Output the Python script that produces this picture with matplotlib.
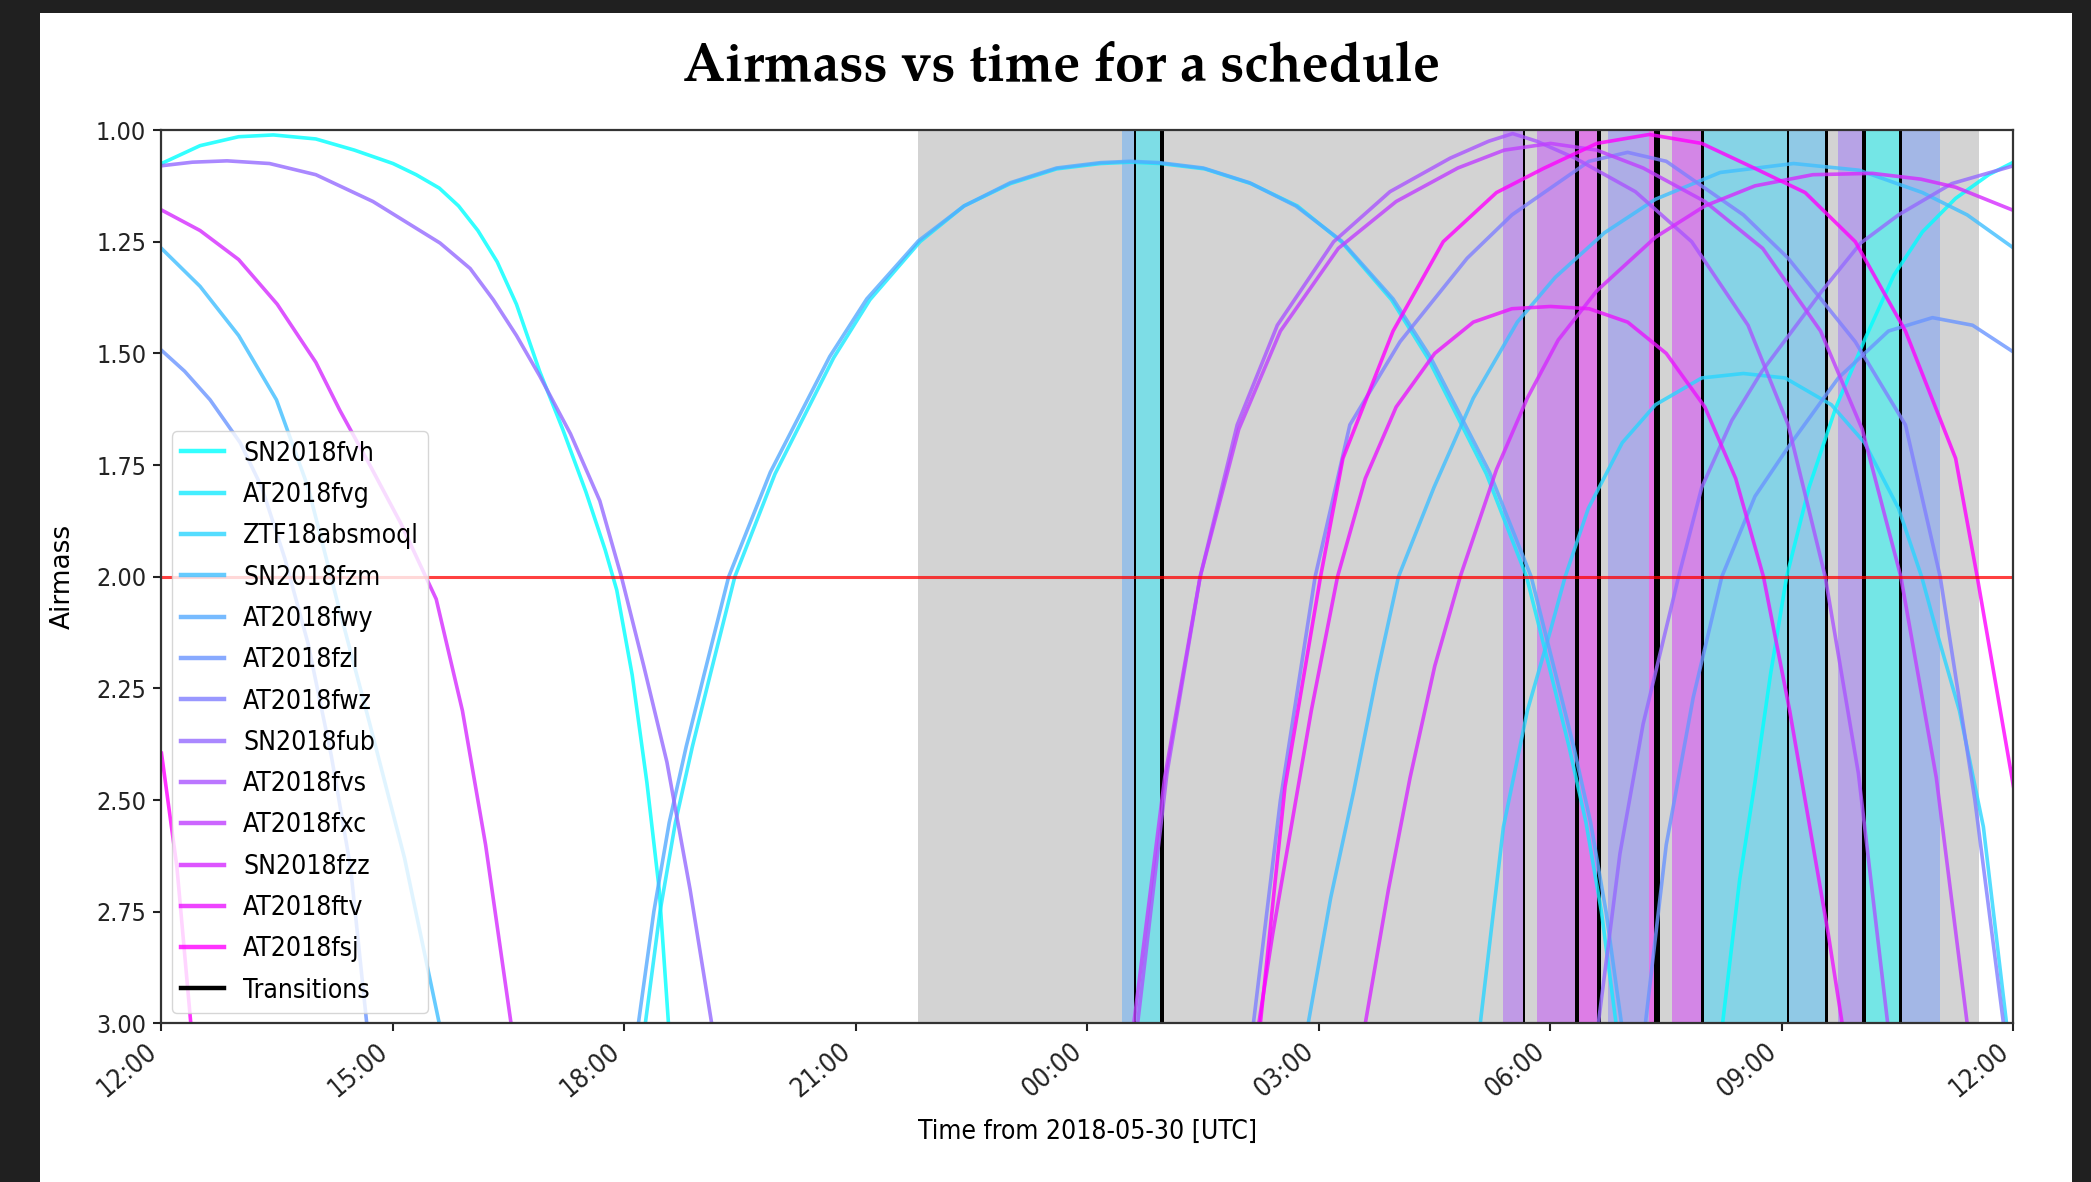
import numpy as np
import matplotlib.pyplot as plt
import matplotlib.dates as mdates
from matplotlib.lines import Line2D
from matplotlib.patches import Rectangle
from matplotlib import font_manager as fm

installed = {f.name for f in fm.fontManager.ttflist}
serif_font = 'TeX Gyre Pagella' if 'TeX Gyre Pagella' in installed else 'Liberation Serif'
plt.rcParams['font.family'] = ['DejaVu Sans']
plt.rcParams['font.stretch'] = 'condensed'

# time axis: hours after 2018-05-29 12:00 UTC
start = np.datetime64('2018-05-29T12:00')

targets = ['SN2018fvh', 'AT2018fvg', 'ZTF18absmoql', 'SN2018fzm', 'AT2018fwy',
           'AT2018fzl', 'AT2018fwz', 'SN2018fub', 'AT2018fvs', 'AT2018fxc',
           'SN2018fzz', 'AT2018ftv', 'AT2018fsj']

# airmass curves, (hour, airmass)
fvh_eve = [(0.0, 1.075), (0.5, 1.035), (1.0, 1.015), (1.45, 1.011), (2.0, 1.02), (2.5, 1.045),
           (3.0, 1.075), (3.3, 1.1), (3.6, 1.13), (3.85, 1.17), (4.1, 1.225), (4.35, 1.295),
           (4.6, 1.39), (4.9, 1.54), (5.2, 1.67), (5.5, 1.81), (5.75, 1.94), (5.9, 2.03),
           (6.1, 2.22), (6.29, 2.46), (6.45, 2.7), (6.57, 3.0)]
fvh_morn = [(20.23, 3.0), (20.45, 2.68), (20.65, 2.46), (20.85, 2.22), (21.06, 2.0), (21.35, 1.8),
            (21.7, 1.62), (22.08, 1.466), (22.45, 1.325), (22.82, 1.228), (23.25, 1.153),
            (23.68, 1.1), (24.0, 1.072)]
fvg_night = [(6.27, 3.0), (6.46, 2.75), (6.66, 2.55), (6.88, 2.38), (7.11, 2.22), (7.43, 2.0),
             (7.95, 1.77), (8.71, 1.51), (9.18, 1.38), (9.83, 1.25), (10.4, 1.17), (11.0, 1.12),
             (11.6, 1.087), (12.17, 1.075), (12.56, 1.072), (12.95, 1.075), (13.52, 1.087),
             (14.12, 1.12), (14.72, 1.17), (15.29, 1.25), (15.94, 1.38), (16.41, 1.51),
             (17.17, 1.77), (17.69, 2.0), (18.01, 2.22), (18.24, 2.38), (18.46, 2.55),
             (18.66, 2.75), (18.85, 3.0)]
zsm_night = [(17.09, 3.0), (17.39, 2.56), (17.7, 2.3), (18.0, 2.12), (18.19, 2.0), (18.49, 1.847),
             (18.93, 1.7), (19.36, 1.615), (19.96, 1.555), (20.5, 1.545), (21.04, 1.555),
             (21.64, 1.615), (22.07, 1.7), (22.51, 1.847), (22.81, 2.0), (23.0, 2.12),
             (23.3, 2.3), (23.61, 2.56), (23.91, 3.0)]
fzm_eve = [(0.0, 1.265), (0.5, 1.35), (1.0, 1.46), (1.49, 1.604), (1.9, 1.8), (2.27, 2.05),
           (2.7, 2.33), (3.15, 2.63), (3.6, 3.0)]
fzm_morn = [(14.86, 3.0), (15.15, 2.72), (15.45, 2.48), (15.75, 2.22), (16.03, 2.0), (16.49, 1.8),
            (17.0, 1.6), (17.57, 1.43), (18.06, 1.33), (18.7, 1.23), (19.36, 1.155), (20.2, 1.095),
            (21.15, 1.075), (22.0, 1.09), (22.82, 1.14), (23.4, 1.19), (24.0, 1.264)]
fwy_night = [(6.18, 3.0), (6.38, 2.75), (6.58, 2.55), (6.8, 2.38), (7.03, 2.22), (7.35, 2.0),
             (7.89, 1.766), (8.66, 1.507), (9.14, 1.378), (9.81, 1.248), (10.4, 1.17),
             (11.0, 1.118), (11.6, 1.085), (12.17, 1.073), (12.55, 1.07), (12.93, 1.073),
             (13.5, 1.085), (14.1, 1.118), (14.7, 1.17), (15.29, 1.248), (15.96, 1.378),
             (16.44, 1.507), (17.21, 1.766), (17.75, 2.0), (18.07, 2.22), (18.3, 2.38),
             (18.52, 2.55), (18.72, 2.75), (18.92, 3.0)]
fzl_eve = [(0.0, 1.493), (0.3, 1.54), (0.63, 1.604), (1.02, 1.7), (1.3, 1.8), (1.6, 1.96),
           (1.9, 2.15), (2.2, 2.4), (2.45, 2.65), (2.66, 3.0)]
fzl_morn = [(19.23, 3.0), (19.5, 2.6), (19.85, 2.27), (20.22, 2.0), (20.65, 1.82), (21.08, 1.71),
            (21.73, 1.555), (22.38, 1.45), (22.95, 1.42), (23.47, 1.437), (24.0, 1.497)]
fwz_night = [(14.15, 3.0), (14.5, 2.5), (14.95, 2.0), (15.4, 1.66), (16.05, 1.474), (16.92, 1.287),
             (17.5, 1.19), (18.0, 1.13), (18.5, 1.07), (19.0, 1.05), (19.5, 1.07), (20.0, 1.13),
             (20.5, 1.19), (21.08, 1.287), (21.95, 1.474), (22.6, 1.66), (23.05, 2.0),
             (23.5, 2.5), (23.87, 3.0)]
fub_eve = [(0.0, 1.08), (0.4, 1.072), (0.85, 1.069), (1.4, 1.075), (2.0, 1.1), (2.74, 1.16),
           (3.61, 1.253), (4.0, 1.31), (4.3, 1.38), (4.6, 1.46), (4.9, 1.55), (5.3, 1.68),
           (5.68, 1.83), (5.96, 2.0), (6.25, 2.2), (6.55, 2.415), (6.85, 2.7), (7.13, 3.0)]
fub_morn = [(18.62, 3.0), (18.9, 2.62), (19.2, 2.33), (19.66, 2.0), (19.96, 1.8), (20.35, 1.65),
            (20.74, 1.54), (21.52, 1.36), (22.02, 1.253), (22.51, 1.19), (23.2, 1.12), (24.0, 1.08)]
fvs_night = [(12.65, 3.0), (13.03, 2.44), (13.46, 2.0), (13.94, 1.66), (14.46, 1.437), (15.19, 1.25),
             (15.92, 1.138), (16.7, 1.063), (17.2, 1.025), (17.51, 1.008), (17.82, 1.025),
             (18.32, 1.063), (19.1, 1.138), (19.83, 1.25), (20.56, 1.437), (21.08, 1.66),
             (21.56, 2.0), (21.99, 2.44), (22.37, 3.0)]
fxc_night = [(12.6, 3.0), (13.0, 2.45), (13.46, 2.0), (13.96, 1.67), (14.5, 1.45), (15.25, 1.265),
             (16.0, 1.16), (16.8, 1.085), (17.4, 1.045), (18.0, 1.03), (18.6, 1.045), (19.2, 1.085),
             (20.0, 1.16), (20.75, 1.265), (21.5, 1.45), (22.04, 1.67), (22.54, 2.0), (23.0, 2.45),
             (23.4, 3.0)]
fzz_eve = [(0.0, 1.179), (0.5, 1.225), (1.0, 1.29), (1.5, 1.39), (2.0, 1.52), (2.31, 1.627),
           (2.7, 1.75), (3.1, 1.88), (3.56, 2.05), (3.9, 2.3), (4.2, 2.6), (4.53, 3.0)]
fzz_morn = [(15.6, 3.0), (15.9, 2.7), (16.18, 2.45), (16.5, 2.2), (16.83, 2.0), (17.3, 1.76),
            (17.7, 1.6), (18.1, 1.47), (18.6, 1.36), (19.36, 1.24), (20.0, 1.17), (20.65, 1.125),
            (21.4, 1.1), (22.17, 1.097), (22.8, 1.11), (23.25, 1.128), (24.0, 1.18)]
ftv_night = [(14.22, 3.0), (14.4, 2.8), (14.6, 2.6), (14.9, 2.3), (15.24, 2.0), (15.6, 1.78),
             (16.0, 1.62), (16.5, 1.5), (17.0, 1.43), (17.5, 1.4), (18.0, 1.395), (18.5, 1.4),
             (19.0, 1.43), (19.5, 1.5), (20.0, 1.62), (20.4, 1.78), (20.76, 2.0), (21.1, 2.3),
             (21.4, 2.6), (21.6, 2.8), (21.78, 3.0)]
fsj_eve = [(0.0, 2.395), (0.2, 2.65), (0.38, 3.0)]
fsj_morn = [(14.24, 3.0), (14.56, 2.47), (15.02, 2.0), (15.31, 1.735), (15.96, 1.45), (16.61, 1.25),
            (17.3, 1.14), (17.91, 1.086), (18.6, 1.03), (19.28, 1.01), (19.96, 1.03), (20.65, 1.086),
            (21.3, 1.14), (21.95, 1.25), (22.6, 1.45), (23.25, 1.735), (23.53, 2.0), (24.0, 2.47)]

curves = [fvh_eve + [None] + fvh_morn, fvg_night, zsm_night, fzm_eve + [None] + fzm_morn,
          fwy_night, fzl_eve + [None] + fzl_morn, fwz_night, fub_eve + [None] + fub_morn,
          fvs_night, fxc_night, fzz_eve + [None] + fzz_morn, ftv_night,
          fsj_eve + [None] + fsj_morn]

# scheduled blocks (start hour, end hour, target) and transitions
blocks = [(12.45, 12.60, 'AT2018fwy'), (12.633, 12.934, 'AT2018fvg'),
          (17.39, 17.644, 'AT2018fvs'), (17.82, 18.322, 'AT2018fxc'),
          (18.374, 18.603, 'AT2018ftv'), (18.75, 19.28, 'AT2018fwz'),
          (19.28, 19.346, 'AT2018fsj'), (19.57, 19.951, 'SN2018fzz'),
          (19.994, 21.066, 'ZTF18absmoql'), (21.096, 21.553, 'SN2018fzm'),
          (21.73, 22.037, 'SN2018fub'), (22.089, 22.512, 'SN2018fvh'),
          (22.556, 23.05, 'AT2018fzl')]
transitions = [(12.605, 12.628), (12.934, 12.986), (17.648, 17.675), (18.322, 18.374),
               (18.603, 18.655), (19.346, 19.423), (19.951, 19.994), (21.069, 21.094),
               (21.553, 21.597), (22.037, 22.089), (22.512, 22.556)]
night = (9.80, 23.55)


def to_num(hours):
    return mdates.date2num(start) + np.asarray(hours, dtype=float) / 24.0


fig = plt.figure(figsize=(20.91, 11.82), dpi=100, facecolor='#202020')
fig.add_artist(Rectangle((40 / 2091, 0), 2032 / 2091, 1 - 13 / 1182,
                         transform=fig.transFigure, facecolor='white', edgecolor='none',
                         zorder=-10))
ax = fig.add_axes([0.07723, 0.1341, 0.8857, 0.7559])

colors = {name: plt.cm.cool(i / (len(targets) - 1)) for i, name in enumerate(targets)}

ax.axvspan(to_num(night[0]), to_num(night[1]), color='lightgrey', lw=0, zorder=0.5)
for s, e, name in blocks:
    ax.axvspan(to_num(s), to_num(e), fc=colors[name], lw=0, alpha=0.45)
for s, e in transitions:
    ax.axvspan(to_num(s), to_num(e), color='k', lw=0)

for name, pts in zip(targets, curves):
    hrs = [np.nan if p is None else p[0] for p in pts]
    am = [np.nan if p is None else p[1] for p in pts]
    ax.plot(to_num(hrs), am, color=colors[name], lw=2.6, alpha=0.8, label=name)

ax.axhline(2.0, color='red', lw=2.2, alpha=0.75)

ax.set_xlim(to_num(0), to_num(24))
ax.set_ylim(3.0, 1.0)
ax.set_yticks(np.arange(1.0, 3.01, 0.25))
ax.yaxis.set_major_formatter(plt.FormatStrFormatter('%.2f'))
ax.xaxis.set_major_locator(mdates.HourLocator(byhour=range(0, 24, 3)))
ax.xaxis.set_major_formatter(mdates.DateFormatter('%H:%M'))
ax.tick_params(labelsize=18, length=6, width=1.5, pad=5, colors='#222222')
ax.tick_params(axis='x', labelrotation=40, labelsize=19)
plt.setp(ax.get_xticklabels(), ha='right')
for sp in ax.spines.values():
    sp.set_linewidth(1.6)
    sp.set_color('#333333')

ax.set_xlabel('Time from 2018-05-30 [UTC]', fontsize=19, va='center')
ax.xaxis.set_label_coords(0.5, -0.1214)
ax.set_ylabel('Airmass', fontsize=19, fontstretch='normal', va='center')
ax.yaxis.set_label_coords(-0.0532, 0.5)

handles, labels = ax.get_legend_handles_labels()
handles.append(Line2D([], [], color='k', lw=3))
labels.append('Transitions')
leg = ax.legend(handles, labels, loc='lower left', prop={'size': 19, 'stretch': 'condensed'},
                handlelength=1.6, handletextpad=0.75, labelspacing=0.58, borderpad=0.35,
                borderaxespad=0.4, framealpha=0.8)
for line in leg.get_lines():
    line.set_linewidth(3.2)

fig.text(0.5077, 0.9315, 'Airmass vs time for a schedule', ha='center', va='baseline',
         family=serif_font, weight='bold', fontsize=39)

fig.savefig('out.png', dpi=100, facecolor=fig.get_facecolor())
